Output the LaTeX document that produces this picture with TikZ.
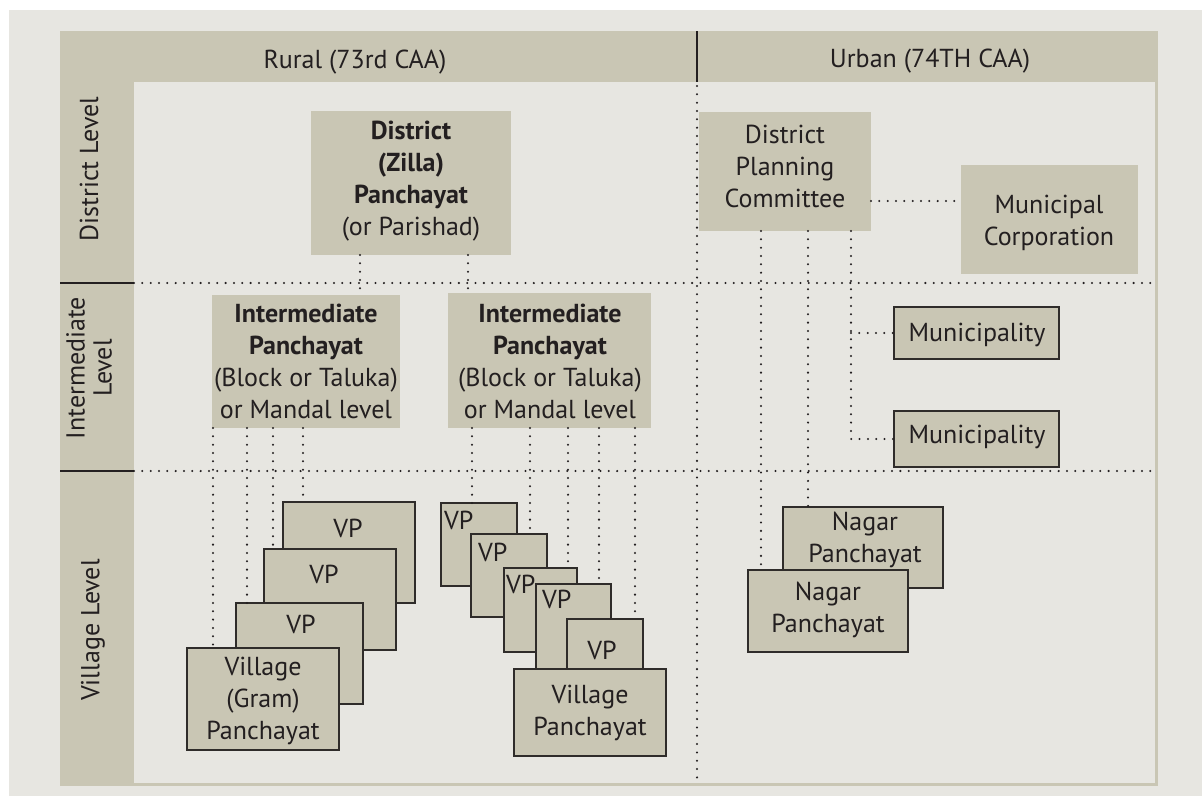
\documentclass[tikz,border=0pt]{standalone}
\usepackage{fontspec}
\setmainfont{PT Sans}
\usetikzlibrary{fit,calc}
\definecolor{bgc}{HTML}{E7E6E1}
\definecolor{tanc}{HTML}{C9C6B4}
\definecolor{ink}{HTML}{231F20}
\definecolor{edgec}{HTML}{2F2C2A}
\begin{document}
\begin{tikzpicture}[x=1pt,y=-1pt,
  every node/.style={text=ink,inner sep=0pt,outer sep=0pt},
  txt/.style={font=\fontsize{26}{32}\selectfont, align=center},
  flat/.style={fill=tanc, draw=none, fit={#1}},
  sbox/.style={fill=tanc, draw=edgec, line width=1.3pt, fit={#1}},
  dotline/.style={draw=ink, line width=2.3pt, line cap=round, dash pattern=on 0pt off 8.33pt},
  solidline/.style={draw=ink, line width=2pt}]
\useasboundingbox (0,0) rectangle (1202,796);
\fill[white] (0,0) rectangle (1202,796);
\fill[bgc] (9,10) rectangle (1202,796);
\fill[tanc] (60,31) rectangle (1158,786);
\fill[bgc] (134,82) rectangle (1155,783);
% headers
\node[txt, anchor=base] (rural) at (355,68) {Rural (73rd CAA)};
\node[txt, anchor=base] (urban) at (930,67) {Urban (74TH CAA)};
\node[txt, rotate=90] (lvd) at (89,169) {District Level};
\node[txt, rotate=90, font=\fontsize{26}{27}\selectfont] (lvi) at (89,368) {Intermediate\\Level};
\node[txt, rotate=90] (lvv) at (93,630) {Village Level};
% grid lines
\coordinate (g0) at (697,31);
\coordinate (g1) at (697,82);
\coordinate (g2) at (697,86);
\coordinate (g3) at (697,782);
\coordinate (h1a) at (60,283);
\coordinate (h1b) at (134,283);
\coordinate (h1c) at (1155,283);
\coordinate (h2a) at (60,471);
\coordinate (h2b) at (134,471);
\coordinate (h2c) at (1155,471);
\draw[solidline] (g0) -- (g1);
\draw[solidline] (h1a) -- (h1b);
\draw[solidline] (h2a) -- (h2b);
\draw[dotline] (h1b) -- (h1c);
\draw[dotline] (h2b) -- (h2c);
\draw[dotline] (g2) -- (g3);
% connector x positions
\coordinate (cA) at (360,0);
\coordinate (cB) at (468,0);
\coordinate (c1) at (213,0);
\coordinate (c2) at (247,0);
\coordinate (c3) at (273,0);
\coordinate (c4) at (303,0);
\coordinate (d1) at (472,0);
\coordinate (d2) at (530,0);
\coordinate (d3) at (568,0);
\coordinate (d4) at (599,0);
\coordinate (d5) at (635,0);
\coordinate (u1) at (761,0);
\coordinate (u2) at (808,0);
\coordinate (u3) at (851,0);
\coordinate (hy) at (0,201);
% flat boxes
\node[flat={(311,111) (511,255)}] (dist) {};
\node[flat={(212,295) (400,428)}] (int1) {};
\node[flat={(448,293) (651,428)}] (int2) {};
\node[flat={(699,112) (871,231)}] (dpc) {};
\node[flat={(961,165) (1138,274)}] (mc) {};
\node[txt] (distt) at (411,181) {{\bfseries District}\\{\bfseries (Zilla)}\\{\bfseries Panchayat}\\(or Parishad)};
\node[txt] (int1t) at (306,361) {{\bfseries Intermediate}\\{\bfseries Panchayat}\\(Block or Taluka)\\or Mandal level};
\node[txt] (int2t) at (550,361) {{\bfseries Intermediate}\\{\bfseries Panchayat}\\(Block or Taluka)\\or Mandal level};
\node[txt] (dpct) at (785,166) {District\\Planning\\Committee};
\node[txt] (mct) at (1049,223) {Municipal\\Corporation};
% bordered boxes, urban
\node[sbox={(894,307) (1059,359)}] (mun1) {};
\node[sbox={(894,411) (1059,467)}] (mun2) {};
\node[txt, anchor=base] (mun1t) at (977,341) {Municipality};
\node[txt, anchor=base] (mun2t) at (977,443) {Municipality};
\node[sbox={(783,507) (943,588)}] (nag1) {};
\node[txt] (nag1t) at (865,540) {Nagar\\Panchayat};
\node[sbox={(748,570) (908,652)}] (nag2) {};
\node[txt] (nag2t) at (828,610) {Nagar\\Panchayat};
% left village stack
\node[sbox={(283,502) (415,603)}] (vp1) {};
\node[txt, anchor=base] (vp1t) at (348,537) {VP};
\node[sbox={(264,549) (396,650)}] (vp2) {};
\node[txt, anchor=base] (vp2t) at (324,583) {VP};
\node[sbox={(236,603) (363,704)}] (vp3) {};
\node[txt, anchor=base] (vp3t) at (301,633) {VP};
\node[sbox={(187,648) (339,750)}] (vil1) {};
\node[txt] (vil1t) at (263,701) {Village\\(Gram)\\Panchayat};
% right village stack
\node[sbox={(441,503) (517,586)}] (vpa) {};
\node[txt, anchor=base west] (vpat) at (444,529) {VP};
\node[sbox={(471,534) (547,617)}] (vpb) {};
\node[txt, anchor=base west] (vpbt) at (478,561) {VP};
\node[sbox={(504,568) (577,652)}] (vpc) {};
\node[txt, anchor=base west] (vpct) at (506,593) {VP};
\node[sbox={(536,584) (611,690)}] (vpd) {};
\node[txt, anchor=base west] (vpdt) at (542,608) {VP};
\node[sbox={(567,619) (643,690)}] (vpe) {};
\node[txt, anchor=base] (vpet) at (602,659) {VP};
\node[sbox={(514,669) (666,756)}] (vil2) {};
\node[txt] (vil2t) at (590,713) {Village\\Panchayat};
% connectors
\draw[dotline] (dist.south -| cA) -- (int1.north -| cA);
\draw[dotline] (dist.south -| cB) -- (int2.north -| cB);
\draw[dotline] (dpc.east |- hy) -- (mc.west |- hy);
\draw[dotline] (dpc.south -| u3) |- (mun2.west);
\draw[dotline] (mun1.west -| u3) -- (mun1.west);
\draw[dotline] (dpc.south -| u1) -- (nag2.north -| u1);
\draw[dotline] (dpc.south -| u2) -- (nag1.north -| u2);
\draw[dotline] (int1.south -| c1) -- (vil1.north -| c1);
\draw[dotline] (int1.south -| c2) -- (vp3.north -| c2);
\draw[dotline] (int1.south -| c3) -- (vp2.north -| c3);
\draw[dotline] (int1.south -| c4) -- (vp1.north -| c4);
\draw[dotline] (int2.south -| d1) -- (vpa.north -| d1);
\draw[dotline] (int2.south -| d2) -- (vpb.north -| d2);
\draw[dotline] (int2.south -| d3) -- (vpc.north -| d3);
\draw[dotline] (int2.south -| d4) -- (vpd.north -| d4);
\draw[dotline] (int2.south -| d5) -- (vpe.north -| d5);
\end{tikzpicture}
\end{document}
